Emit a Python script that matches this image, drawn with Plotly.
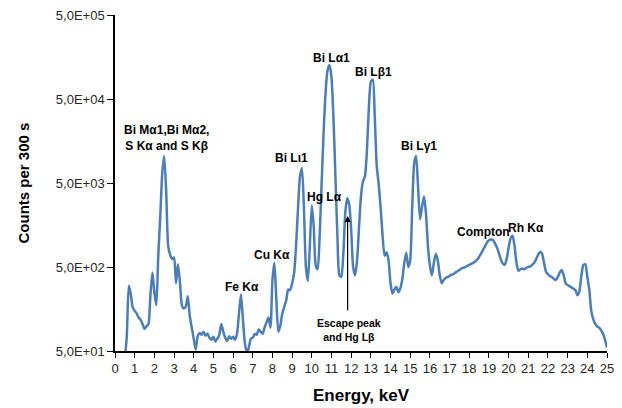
import math
import plotly.graph_objects as go

# Energy grid start / step (keV) and counts
E_START = 0.5
E_STEP = 0.1
counts = [
    40, 75, 300, 240, 165,
    150, 140, 125, 118, 105, 92, 98, 105, 230, 430,
    250, 175, 700, 2000, 6500, 10500, 4000, 900, 700, 620,
    650, 320, 540, 330, 175, 160, 170, 225, 130, 95,
    70, 52, 75, 82, 78, 85, 76, 80, 72, 68,
    74, 65, 70, 78, 105, 85, 72, 66, 75, 70,
    74, 68, 80, 140, 235, 120, 62, 48, 55, 70,
    72, 80, 78, 90, 85, 80, 95, 110, 125, 95,
    350, 560, 200, 85, 100, 140, 168, 200, 270, 265,
    320, 420, 900, 2500, 6000, 7500, 2500, 500, 340, 900,
    2700, 1500, 520, 470, 1200, 5000, 20000, 60000, 110000, 127000,
    90000, 30000, 6000, 1200, 400, 380, 700, 2200, 3300, 2800,
    1400, 500, 400, 600, 1500, 3500, 5200, 6000, 12000, 40000,
    80000, 85000, 30000, 8000, 4800, 2500, 1150, 680, 750, 600,
    320, 240, 270, 290, 250, 280, 360, 560, 740, 500,
    600, 2500, 8500, 10500, 4500, 1850, 2600, 3450, 2200, 900,
    520, 400, 560, 720, 600, 400, 320, 350, 370, 380,
    390, 405, 410, 430, 445, 460, 480, 490, 500, 515,
    530, 545, 560, 580, 610, 660, 720, 800, 880, 980,
    1040, 1060, 1050, 960, 860, 740, 620, 550, 530, 620,
    850, 1100, 1180, 900, 560, 450, 470, 480, 470, 490,
    500, 510, 530, 560, 620, 700, 760, 720, 560, 440,
    410, 390, 380, 360, 350, 380, 430, 460, 400, 320,
    305, 295, 285, 275, 265, 230, 260, 400, 530, 540,
    380, 270, 150, 120, 105, 98, 95, 88, 80, 68,
    55,
]
energies = [round(E_START + E_STEP * i, 2) for i in range(len(counts))]

x_ticks = list(range(0, 26))
y_tickvals = [50, 500, 5000, 50000, 500000]
y_ticktext = ["5,0E+01", "5,0E+02", "5,0E+03", "5,0E+04", "5,0E+05"]

# Peak labels: (text, energy, counts-level of label centre)
labels = [
    ("Bi M\u03b11,Bi M\u03b12,<br>S K\u03b1 and S K\u03b2", 2.63, 17200),
    ("Bi L\u03b91", 8.97, 9800),
    ("Hg L\u03b1", 10.62, 3400),
    ("Cu K\u03b1", 7.97, 695),
    ("Fe K\u03b1", 6.43, 291),
    ("Bi L\u03b11", 11.02, 152000),
    ("Bi L\u03b21", 13.15, 105000),
    ("Bi L\u03b31", 15.45, 13800),
    ("Compton", 18.70, 1315),
    ("Rh K\u03b1", 20.86, 1445),
]
escape_label = ("Escape peak<br>and Hg L\u03b2", 11.87, 88)
escape_arrow_head = (11.82, 2020)

BLUE = "#4a7ebb"
FONT = "Liberation Sans, Arial, sans-serif"

fig = go.Figure()
fig.add_trace(go.Scatter(
    x=energies, y=counts, mode="lines",
    line=dict(color=BLUE, width=2.5, shape="spline", smoothing=0.6),
    hoverinfo="skip", showlegend=False,
))

for text, ex, cy in labels:
    fig.add_annotation(x=ex, y=math.log10(cy), xref="x", yref="y", text="<b>" + text.replace("<br>", "</b><br><b>") + "</b>",
                       showarrow=False, font=dict(family=FONT, size=12, color="black"),
                       xanchor="center", yanchor="middle")

fig.add_annotation(x=escape_label[1], y=math.log10(escape_label[2]), xref="x", yref="y",
                   text="<b>" + escape_label[0].replace("<br>", "</b><br><b>") + "</b>", showarrow=False,
                   font=dict(family=FONT, size=10.5, color="black"),
                   xanchor="center", yanchor="middle")
fig.add_annotation(x=escape_arrow_head[0], y=math.log10(escape_arrow_head[1]), xref="x", yref="y",
                   text="", showarrow=True, ax=0, ay=96, axref="pixel", ayref="pixel",
                   arrowhead=2, arrowsize=1, arrowwidth=1.2, arrowcolor="black")

# Axis titles
fig.add_annotation(x=0.5, y=-0.132, xref="paper", yref="paper", text="<b>Energy, keV</b>",
                   showarrow=False, font=dict(family=FONT, size=17, color="black"),
                   xanchor="center", yanchor="middle")
fig.add_annotation(x=-0.186, y=0.5, xref="paper", yref="paper", text="<b>Counts per 300 s</b>",
                   showarrow=False, textangle=-90, font=dict(family=FONT, size=15, color="black"),
                   xanchor="center", yanchor="middle")

fig.update_layout(
    width=622, height=408,
    margin=dict(l=115, r=8, t=15, b=57),
    paper_bgcolor="white", plot_bgcolor="white",
    font=dict(family=FONT, color="#262626"),
)
fig.update_xaxes(
    range=[0, 25], tickvals=x_ticks, ticktext=[str(v) for v in x_ticks],
    ticks="outside", ticklen=5, tickwidth=1.3, tickcolor="black",
    showline=True, linecolor="black", linewidth=1.5, showgrid=False, zeroline=False,
    tickfont=dict(family=FONT, size=13, color="#262626"),
)
fig.update_yaxes(
    type="log", range=[math.log10(50), math.log10(500000)],
    tickvals=y_tickvals, ticktext=y_ticktext,
    ticks="outside", ticklen=6, tickwidth=1.3, tickcolor="black",
    showline=True, linecolor="black", linewidth=1.5, showgrid=False, zeroline=False,
    tickfont=dict(family=FONT, size=13, color="#262626"),
)

fig.write_html("out.html")
